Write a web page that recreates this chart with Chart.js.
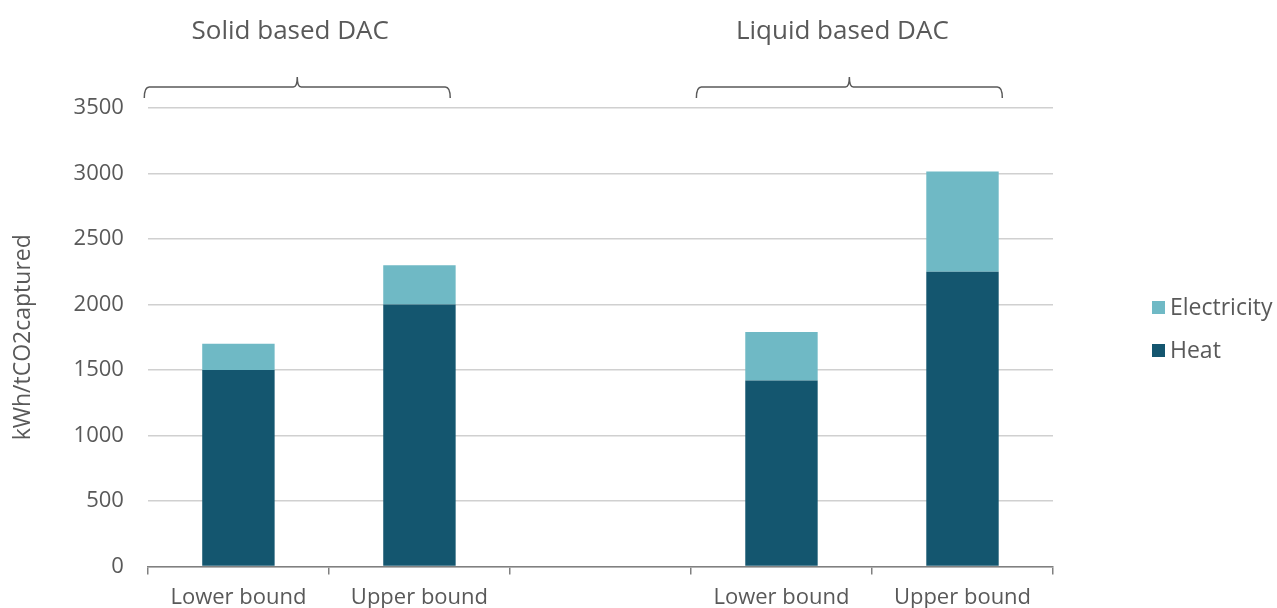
<!DOCTYPE html>
<html>
<head>
<meta charset="utf-8">
<script src="https://cdn.jsdelivr.net/npm/chart.js@4/dist/chart.umd.min.js"></script>
<style>
  html, body { margin: 0; padding: 0; background: #fff; }
  #wrap { width: 1277px; height: 608px; position: relative; }
</style>
</head>
<body>
<div id="wrap"><canvas id="chart"></canvas></div>
<script>
// Datos
const categorias = ['Lower bound', 'Upper bound', '', 'Lower bound', 'Upper bound'];
const calor = [1500, 2000, null, 1420, 2250];
const electricidad = [200, 300, null, 370, 765];
const grupos = ['Solid based DAC', 'Liquid based DAC'];
const ticksY = [0, 500, 1000, 1500, 2000, 2500, 3000, 3500];

const gris = '#595959';
const fuente = "'Open Sans', 'Noto Sans', sans-serif";

// --- Llaves y titulos de grupo ---
const llaves = {
  id: 'llaves',
  afterDraw(chart) {
    const ctx = chart.ctx;
    const x = chart.scales.x;
    const w = x.getPixelForValue(1) - x.getPixelForValue(0);
    const rangos = [[-0.52, 1.17], [2.53, 4.22]];
    ctx.save();
    ctx.strokeStyle = gris;
    ctx.lineWidth = 1.5;
    rangos.forEach((r, i) => {
      const x0 = x.getPixelForValue(0) + r[0] * w;
      const x1 = x.getPixelForValue(0) + r[1] * w;
      const xm = (x0 + x1) / 2;
      const y = 87;
      ctx.beginPath();
      ctx.moveTo(x0, y + 11);
      ctx.quadraticCurveTo(x0, y, x0 + 5, y);
      ctx.lineTo(xm - 4, y);
      ctx.quadraticCurveTo(xm, y, xm, y - 10);
      ctx.quadraticCurveTo(xm, y, xm + 4, y);
      ctx.lineTo(x1 - 5, y);
      ctx.quadraticCurveTo(x1, y, x1, y + 11);
      ctx.stroke();
      ctx.fillStyle = gris;
      ctx.font = '26px ' + fuente;
      ctx.textAlign = 'center';
      ctx.textBaseline = 'middle';
      ctx.fillText(grupos[i], xm - 7, 32);
    });
    ctx.restore();
  }
};

// --- Leyenda ---
const leyenda = {
  id: 'leyenda',
  afterDraw(chart) {
    const ctx = chart.ctx;
    const items = chart.data.datasets.slice().reverse();
    ctx.save();
    ctx.font = '23px ' + fuente;
    ctx.textBaseline = 'middle';
    items.forEach((d, i) => {
      const y = 308 + i * 43;
      ctx.fillStyle = d.backgroundColor;
      ctx.fillRect(1152, y - 7, 13, 13);
      ctx.fillStyle = gris;
      ctx.fillText(d.label, 1170, y);
    });
    ctx.restore();
  }
};

const ctx = document.getElementById('chart').getContext('2d');
const grafico = new Chart(ctx, {
  type: 'bar',
  data: {
    labels: categorias,
    datasets: [
      { label: 'Heat', data: calor, backgroundColor: '#14566f', barPercentage: 0.4, categoryPercentage: 1 },
      { label: 'Electricity', data: electricidad, backgroundColor: '#6fb9c5', barPercentage: 0.4, categoryPercentage: 1 }
    ]
  },
  options: {
    responsive: true,
    maintainAspectRatio: false,
    animation: false,
    layout: { padding: { top: 108, right: 224, left: 6, bottom: -13 } },
    plugins: { legend: { display: false }, tooltip: { enabled: false } },
    scales: {
      x: {
        stacked: true,
        grid: { offset: true, drawOnChartArea: false, drawTicks: true, tickLength: 8, color: '#808080', lineWidth: 1.5 },
        border: { color: '#808080', width: 1.5 },
        ticks: { color: gris, font: { size: 22, family: fuente }, padding: 10, maxRotation: 0 }
      },
      y: {
        stacked: true,
        min: 0,
        max: 3500,
        afterBuildTicks: s => { s.ticks = ticksY.map(v => ({ value: v })); },
        grid: { color: '#d0d0d0', lineWidth: 1.5, drawTicks: false },
        border: { display: false },
        ticks: { color: gris, font: { size: 22, family: fuente }, padding: 24, callback: v => String(v) },
        title: { display: true, text: 'kWh/tCO2captured', color: gris, font: { size: 23, family: fuente }, padding: { bottom: 12 } }
      }
    }
  },
  plugins: [llaves, leyenda]
});
</script>
</body>
</html>
